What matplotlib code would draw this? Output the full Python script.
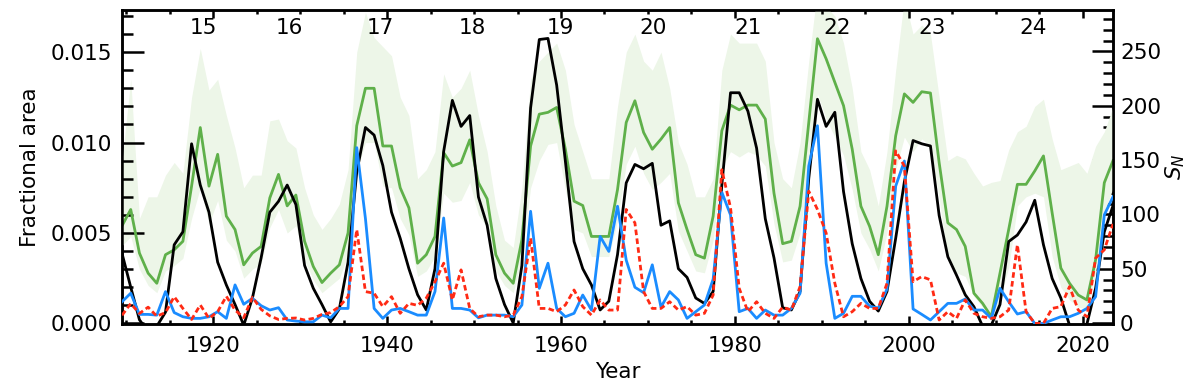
import numpy as np
import matplotlib.pyplot as plt
from matplotlib.ticker import MultipleLocator, FormatStrFormatter

plt.rcParams['font.family'] = ['DejaVu Sans']

# ---- data ----
years = np.arange(1909, 2024)

# sunspot number (right axis)
sn = [64, 33, 3, -8, -3, 10, 72, 84, 165, 127,
      102, 56, 35, 17, -2, 23, 60, 102, 112, 127,
      109, 53, 32, 17, 1, 13, 56, 139, 180, 173,
      145, 102, 78, 50, 26, 12, 50, 158, 205, 181,
      191, 116, 90, 41, 17, 0, 53, 198, 261, 262,
      219, 149, 75, 50, 35, 12, 20, 63, 129, 146,
      142, 147, 90, 94, 50, 42, 23, 18, 29, 127,
      212, 212, 195, 161, 96, 60, 14, 12, 29, 133,
      206, 181, 194, 121, 73, 41, 20, 11, 29, 78,
      130, 168, 165, 163, 99, 61, 44, 26, 15, -3,
      -2, 17, 75, 81, 93, 113, 72, 41, 23, -2,
      -5, -1, 32, 84, 108]

# green curve and its shaded range (units of 1e-3)
green = [5.4, 6.3, 3.89, 2.78, 2.22, 3.80, 4.07, 4.54, 7.59, 10.83,
         7.59, 9.35, 5.93, 5.19, 3.24, 3.89, 4.26, 6.94, 8.24, 6.5,
         7.1, 4.54, 3.15, 2.26, 2.78, 3.24, 5.0, 10.93, 13.0, 13.0,
         9.81, 9.81, 7.5, 6.39, 3.33, 3.8, 4.81, 9.44, 8.70, 8.89,
         10.15, 7.78, 6.89, 3.8, 2.78, 2.22, 4.63, 9.81, 11.57, 11.67,
         11.94, 9.63, 6.76, 6.52, 4.81, 4.81, 4.81, 7.4, 11.11, 12.31,
         10.56, 9.63, 10.19, 10.83, 6.67, 5.19, 3.80, 3.61, 5.93, 10.65,
         12.07, 11.81, 12.07, 12.07, 11.3, 7.2, 4.41, 4.54, 6.48, 11.1,
         15.74, 14.63, 13.33, 12.04, 9.63, 6.48, 5.37, 3.80, 6.48, 10.37,
         12.69, 12.22, 12.81, 12.74, 8.89, 5.56, 5.19, 4.26, 1.67, 1.11,
         0.37, 2.78, 5.19, 7.69, 7.69, 8.43, 9.26, 6.11, 3.06, 2.22,
         1.57, 1.30, 3.52, 7.78, 9.0]

green_hi = [9.0, 13.5, 5.8, 7.0, 7.0, 8.2, 8.9, 8.3, 12.5, 15.2,
            12.9, 13.5, 11.5, 9.7, 7.5, 8.2, 8.2, 11.2, 11.3, 10.1,
            9.7, 7.5, 6.0, 5.2, 5.8, 6.6, 8.5, 15.0, 17.2, 15.8,
            15.3, 14.8, 12.5, 11.5, 8.0, 8.5, 9.5, 13.8, 12.5, 13.0,
            14.0, 11.5, 9.5, 6.5, 4.6, 4.2, 7.5, 13.5, 14.5, 15.0,
            15.5, 14.0, 11.0, 9.5, 8.0, 8.0, 8.0, 12.0, 15.0, 16.0,
            14.5, 14.0, 15.0, 13.0, 10.0, 8.8, 7.0, 7.0, 8.0, 14.0,
            16.0, 15.5, 15.5, 15.5, 14.5, 10.0, 8.0, 7.5, 10.0, 14.5,
            18.5, 17.5, 17.0, 15.5, 13.0, 9.5, 8.5, 6.5, 9.5, 14.0,
            18.0, 16.0, 16.5, 16.0, 12.5, 9.0, 9.3, 9.1, 8.3, 7.6,
            7.8, 7.9, 9.6, 10.6, 10.9, 12.0, 12.4, 10.2, 8.5, 8.7,
            8.9, 8.3, 9.8, 10.6, 12.0]

green_lo = [4.3, 4.8, 3.0, 2.1, 1.7, 2.9, 3.2, 3.6, 5.8, 7.5,
            5.5, 6.8, 4.6, 4.0, 2.5, 3.0, 3.3, 5.3, 6.3, 5.0,
            5.4, 3.5, 2.4, 1.7, 2.1, 2.5, 3.8, 8.4, 10.0, 10.0,
            7.6, 7.5, 5.8, 4.9, 2.6, 2.9, 3.7, 7.2, 6.7, 6.8,
            7.8, 6.0, 5.3, 2.9, 2.1, 1.7, 3.6, 7.5, 9.0, 9.9,
            10.0, 7.4, 5.2, 5.0, 3.7, 3.7, 3.7, 5.7, 8.8, 9.8,
            8.3, 7.4, 7.8, 8.3, 5.1, 4.0, 2.9, 2.8, 4.6, 8.6,
            9.5, 9.2, 9.5, 9.3, 8.7, 5.5, 3.4, 3.5, 5.0, 8.7,
            12.7, 11.3, 10.3, 9.3, 7.4, 5.0, 4.1, 2.9, 5.0, 8.5,
            10.3, 9.5, 10.2, 9.8, 6.9, 3.5, 2.8, 2.6, 1.5, 0.9,
            0.3, 1.3, 3.1, 6.5, 7.0, 7.2, 7.0, 3.7, 2.0, 1.3,
            0.9, 0.8, 2.8, 6.1, 7.5]

# blue (solid) and red (dashed) fractional areas (units of 1e-3)
blue = [1.2, 1.67, 0.5, 0.5, 0.46, 1.76, 0.6, 0.37, 0.28, 0.28,
        0.37, 0.65, 0.28, 2.13, 1.06, 1.39, 0.98, 0.74, 0.87, 0.19,
        0.13, 0.09, 0.09, 0.46, 0.31, 0.83, 0.83, 9.72, 5.8, 0.83,
        0.28, 0.74, 0.83, 0.65, 0.46, 0.46, 1.76, 5.83, 0.83, 0.83,
        0.74, 0.31, 0.46, 0.46, 0.46, 0.37, 1.02, 6.2, 1.94, 3.33,
        0.83, 0.37, 0.56, 1.57, 0.74, 4.81, 3.98, 6.48, 3.5, 2.0,
        1.7, 3.24, 0.9, 1.76, 1.3, 0.28, 0.65, 1.02, 2.45, 7.25,
        6.0, 0.65, 0.83, 0.28, 0.74, 0.46, 0.46, 0.83, 1.67, 8.7,
        10.93, 3.33, 0.28, 0.56, 1.5, 1.5, 0.95, 0.85, 1.9, 7.59,
        8.98, 0.8, 0.5, 0.19, 0.65, 1.11, 1.11, 1.35, 0.74, 0.74,
        0.28, 1.94, 1.2, 0.52, 0.65, 0.0, 0.0, 0.19, 0.37, 0.37,
        0.56, 0.83, 1.48, 6.0, 7.0]

red = [0.45, 1.1, 0.55, 0.9, 0.4, 0.6, 1.48, 0.83, 0.22, 1.02,
       0.28, 0.65, 1.5, 0.74, 0.32, 1.45, 0.78, 0.42, 0.22, 0.28,
       0.3, 0.19, 0.28, 0.5, 0.6, 0.93, 1.48, 5.19, 1.76, 1.67,
       0.93, 1.48, 0.56, 1.11, 1.0, 1.4, 2.3, 3.33, 1.3, 2.96,
       0.83, 0.37, 0.46, 0.46, 0.37, 0.46, 1.48, 4.72, 0.83, 0.83,
       0.65, 1.02, 1.85, 0.93, 0.46, 1.3, 0.74, 0.74, 6.3, 5.56,
       1.76, 0.83, 0.83, 1.2, 0.74, 0.93, 0.46, 0.56, 1.57, 8.5,
       6.4, 1.94, 0.65, 1.2, 0.56, 0.28, 0.9, 0.74, 2.04, 7.31,
       6.3, 5.0, 2.22, 0.37, 0.65, 1.11, 0.83, 0.83, 2.22, 9.54,
       8.7, 2.31, 2.59, 2.41, 0.19, 0.65, 0.28, 1.3, 0.56, 0.37,
       0.28, 0.37, 0.74, 4.35, 0.65, 0.0, 0.0, 0.83, 0.93, 2.04,
       0.74, 0.37, 3.61, 4.07, 5.5]

cycle_nums = ['15', '16', '17', '18', '19', '20', '21', '22', '23', '24']
cycle_pos = [1918.8, 1928.8, 1939.2, 1949.8, 1959.9, 1970.6, 1981.5, 1991.8, 2002.7, 2014.3]

# ---- plotting ----
t = years + 0.5
sc = 1e-3

fig = plt.figure(figsize=(12, 3.88), dpi=100)
ax = fig.add_axes([0.1017, 0.165, 0.8258, 0.8093])
ax2 = ax.twinx()
# left axis on top, its patch hidden, so every curve can live in ax
ax.set_zorder(ax2.get_zorder() + 1)
ax.patch.set_visible(False)

ax.set_xlim(1909.5, 2023.5)
ax.set_ylim(-0.00003, 0.01733)
ax2.set_ylim(-0.9, 288.2)

ax.fill_between(t, np.array(green_lo) * sc, np.array(green_hi) * sc,
                color='#edf6e8', lw=0, zorder=1)
ax.plot(t, np.array(green) * sc, color='#5fb04a', lw=2.0, zorder=2)
# sunspot number drawn in ax but through the right-axis data transform
ax.plot(t, sn, color='black', lw=2.0, zorder=3, transform=ax2.transData)
ax.plot(t, np.array(blue) * sc, color='#1a8cff', lw=2.0, zorder=4)
ax.plot(t, np.array(red) * sc, color='#ff2a14', lw=2.0, ls=(0, (2.0, 1.2)), zorder=5)

ax.xaxis.set_major_locator(MultipleLocator(20))
ax.xaxis.set_minor_locator(MultipleLocator(5))
ax.yaxis.set_major_locator(MultipleLocator(0.005))
ax.yaxis.set_minor_locator(MultipleLocator(0.001))
ax.yaxis.set_major_formatter(FormatStrFormatter('%.3f'))
ax2.yaxis.set_major_locator(MultipleLocator(50))
ax2.yaxis.set_minor_locator(MultipleLocator(10))

fs = 15.5
ax.tick_params(axis='x', which='both', direction='in', top=True, bottom=True,
               labelsize=fs, width=1.8, pad=9)
ax.tick_params(axis='x', which='major', length=5.5)
ax.tick_params(axis='x', which='minor', length=3)
ax.tick_params(axis='y', which='both', direction='in', left=True, right=False,
               labelsize=fs, width=1.8, pad=7)
ax.tick_params(axis='y', which='major', length=16)
ax.tick_params(axis='y', which='minor', length=8)
ax2.tick_params(axis='y', which='both', direction='in', right=True, left=False,
                labelsize=fs, width=1.8, pad=5)
ax2.tick_params(axis='y', which='major', length=15)
ax2.tick_params(axis='y', which='minor', length=7.5)

for a in (ax, ax2):
    for s in a.spines.values():
        s.set_linewidth(1.8)

ax.set_xlabel('Year', fontsize=fs, labelpad=4)
ax.set_ylabel('Fractional area', fontsize=fs, labelpad=8)
ax2.set_ylabel('$S_N$', fontsize=fs, rotation=90, labelpad=2)

for lab, xp in zip(cycle_nums, cycle_pos):
    ax.text(xp, 0.943, lab, transform=ax.get_xaxis_transform(),
            ha='center', va='center', fontsize=fs)

fig.savefig('out.png', dpi=100)
